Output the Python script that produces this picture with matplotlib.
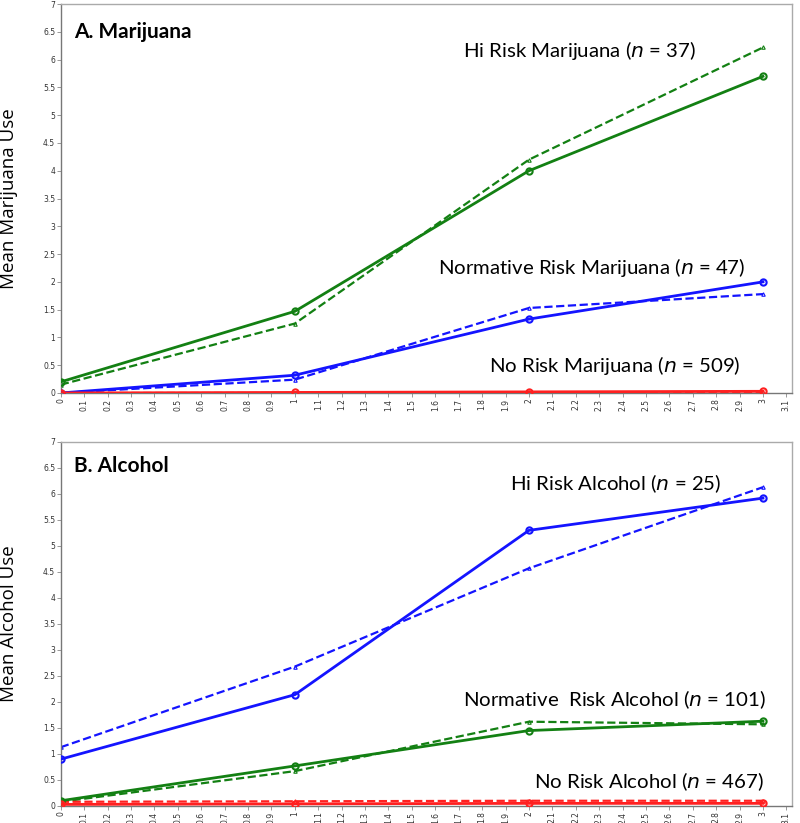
import numpy as np
import matplotlib.pyplot as plt

# waves (x axis)
waves = [0, 1, 2, 3]

# A. Marijuana: observed (solid) and estimated (dashed)
mj_hi_obs = [0.20, 1.47, 4.00, 5.70]
mj_hi_est = [0.15, 1.25, 4.20, 6.22]
mj_norm_obs = [0.00, 0.32, 1.33, 2.00]
mj_norm_est = [0.00, 0.24, 1.53, 1.78]
mj_no_obs = [0.00, 0.01, 0.02, 0.03]
mj_no_est = [0.00, 0.00, 0.01, 0.01]

# B. Alcohol
al_hi_obs = [0.90, 2.14, 5.30, 5.92]
al_hi_est = [1.13, 2.68, 4.57, 6.13]
al_norm_obs = [0.10, 0.77, 1.45, 1.63]
al_norm_est = [0.08, 0.67, 1.62, 1.57]
al_no_obs = [0.03, 0.04, 0.05, 0.05]
al_no_est = [0.08, 0.09, 0.10, 0.10]

xticks = np.round(np.arange(0, 3.11, 0.1), 1)
xtick_labels = ['%g' % v for v in xticks]
yticks = np.arange(0, 7.01, 0.5)
ytick_labels = ['%g' % v for v in yticks]

GREEN = '#138013'
BLUE = '#1414ff'
RED = '#ff2020'

plt.rcParams['font.family'] = ['Lato', 'DejaVu Sans']

fig = plt.figure(figsize=(8, 8.23), dpi=100)
axA = fig.add_axes([0.076, 0.5225, 0.914, 0.4725])
axB = fig.add_axes([0.076, 0.0207, 0.914, 0.4423])


def draw_pair(ax, obs, est, color):
    ax.plot(waves, obs, '-', color=color, lw=2, marker='o', ms=4.5,
            mfc='none', mew=1.5, zorder=3)
    ax.plot(waves, est, '--', color=color, lw=1.6, marker='^', ms=2.5,
            mfc='none', mew=0.8, zorder=2)


def style(ax, ylabel):
    ax.set_xlim(0, 3.124)
    ax.set_ylim(0, 7)
    ax.set_xticks(xticks)
    ax.set_xticklabels(xtick_labels, rotation=90, fontsize=5.5,
                       family='DejaVu Sans', color='#333333')
    ax.set_yticks(yticks)
    ax.set_yticklabels(ytick_labels, fontsize=5.5, family='DejaVu Sans',
                       color='#333333')
    ax.tick_params(length=3, width=0.6, color='#888888', pad=1)
    for s in ['top', 'right']:
        ax.spines[s].set_color('#aaaaaa')
    for s in ['left', 'bottom']:
        ax.spines[s].set_color('#777777')
    for s in ax.spines.values():
        s.set_linewidth(1.0)
    ax.set_ylabel(ylabel, fontsize=13.5, family='Open Sans')
    ax.yaxis.set_label_coords(-0.058, 0.5)


draw_pair(axA, mj_hi_obs, mj_hi_est, GREEN)
draw_pair(axA, mj_norm_obs, mj_norm_est, BLUE)
draw_pair(axA, mj_no_obs, mj_no_est, RED)
style(axA, 'Mean Marijuana Use')
axA.text(0.018, 0.928, 'A. Marijuana', transform=axA.transAxes,
         fontsize=15, fontweight='bold', va='center')
axA.text(1.72, 6.17, 'Hi Risk Marijuana ($\\it{n}$ = 37)', fontsize=14.7, va='center')
axA.text(1.61, 2.25, 'Normative Risk Marijuana ($\\it{n}$ = 47)', fontsize=14.7, va='center')
axA.text(1.83, 0.49, 'No Risk Marijuana ($\\it{n}$ = 509)', fontsize=14.7, va='center')

draw_pair(axB, al_hi_obs, al_hi_est, BLUE)
draw_pair(axB, al_norm_obs, al_norm_est, GREEN)
draw_pair(axB, al_no_obs, al_no_est, RED)
style(axB, 'Mean Alcohol Use')
axB.text(0.018, 0.934, 'B. Alcohol', transform=axB.transAxes,
         fontsize=15, fontweight='bold', va='center')
axB.text(1.92, 6.19, 'Hi Risk Alcohol ($\\it{n}$ = 25)', fontsize=14.7, va='center')
axB.text(1.72, 2.04, 'Normative  Risk Alcohol ($\\it{n}$ = 101)', fontsize=14.7, va='center')
axB.text(2.02, 0.46, 'No Risk Alcohol ($\\it{n}$ = 467)', fontsize=14.7, va='center')

plt.savefig('out.png', dpi=100)
